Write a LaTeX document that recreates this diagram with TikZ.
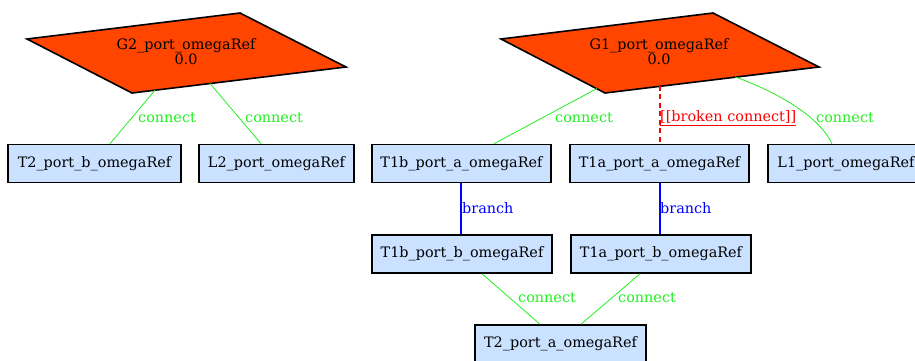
\documentclass[tikz,border=0pt]{standalone}
\usepackage{fontspec}
\setmainfont{DejaVu Serif}
\begin{document}
\begin{tikzpicture}[x=1pt,y=-1pt,
  portbox/.style={draw=black,line width=1.6pt,fill=boxblue,minimum height=38pt,inner sep=0pt,font=\fontsize{14.4}{16}\selectfont},
  gen/.style={draw=black,line width=1.6pt,fill=genorange},
  gentext/.style={align=center,inner sep=0pt,font=\fontsize{14.4}{15}\selectfont},
  conn/.style={draw=linkgreen,line width=0.8pt},
  br/.style={draw=linkblue,line width=1.4pt},
  broken/.style={draw=linkred,line width=1.4pt,dash pattern=on 5pt off 3.5pt},
  elabel/.style={anchor=west,inner sep=0pt,font=\fontsize{14.4}{16}\selectfont}]
\definecolor{boxblue}{HTML}{CAE1FF}
\definecolor{genorange}{HTML}{FF4500}
\definecolor{linkgreen}{HTML}{22EE22}
\definecolor{linkblue}{HTML}{0000FF}
\definecolor{linkred}{HTML}{FF0000}
\useasboundingbox (0,0) rectangle (915,360);
\begin{scope}
\clip (0,0) rectangle (915,360);

% generator parallelograms
\coordinate (g2l) at (27,39);
\coordinate (g2t) at (240,13);
\coordinate (g2r) at (346,67);
\coordinate (g2b) at (132,93);
\path[gen] (g2l) -- (g2t) -- (g2r) -- (g2b) -- cycle;
\node[gentext] (G2) at (186,52) {G2\_port\_omegaRef\\0.0};

\coordinate (g1l) at (501,39);
\coordinate (g1t) at (713,13);
\coordinate (g1r) at (819,67);
\coordinate (g1b) at (605,93);
\path[gen] (g1l) -- (g1t) -- (g1r) -- (g1b) -- cycle;
\node[gentext] (G1) at (659,52) {G1\_port\_omegaRef\\0.0};

% port boxes
\node[portbox,minimum width=173pt] (T2b) at (94.5,163.5) {T2\_port\_b\_omegaRef};
\node[portbox,minimum width=155pt] (L2) at (276.5,163.5) {L2\_port\_omegaRef};
\node[portbox,minimum width=179pt] (T1ba) at (461.5,163.5) {T1b\_port\_a\_omegaRef};
\node[portbox,minimum width=179pt] (T1aa) at (659.5,163.5) {T1a\_port\_a\_omegaRef};
\node[portbox,minimum width=156pt] (L1) at (846,163.5) {L1\_port\_omegaRef};
\node[portbox,minimum width=180pt] (T1bb) at (462,254) {T1b\_port\_b\_omegaRef};
\node[portbox,minimum width=180pt] (T1ab) at (661,254) {T1a\_port\_b\_omegaRef};
\node[portbox,minimum width=171pt] (T2a) at (560.5,344) {T2\_port\_a\_omegaRef};

% edge end points on the generator outlines
\coordinate (g2e1) at (155,90.2);
\coordinate (g2e2) at (210,83.5);
\coordinate (g1e1) at (597,88.5);
\coordinate (g1e2) at (660,85.5);
\coordinate (g1e3) at (735,76.8);

% connections
\draw[conn] (g2e1) -- (T2b.north -| 110,0);
\node[elabel,text=linkgreen] (c1) at (138,118) {connect};
\draw[conn] (g2e2) -- (L2.north -| 261,0);
\node[elabel,text=linkgreen] (c2) at (245,118) {connect};
\draw[conn] (g1e1) -- (T1ba.north -| 494,0);
\node[elabel,text=linkgreen] (c3) at (555,118) {connect};
\draw[broken] (g1e2) -- (T1aa.north -| 660,0);
\node[elabel,text=linkred] (c4) at (660,118) {\underline{[[broken connect]]}};
\draw[conn] (g1e3) .. controls (790,97) and (822,122) .. (L1.north -| 832,0);
\node[elabel,text=linkgreen] (c5) at (816,118) {connect};

\draw[br] (T1ba.south -| 461,0) -- (T1bb.north -| 461,0);
\node[elabel,text=linkblue] (b1) at (462,208) {branch};
\draw[br] (T1aa.south -| 660,0) -- (T1ab.north -| 660,0);
\node[elabel,text=linkblue] (b2) at (660,208) {branch};

\draw[conn] (T1bb.south -| 482,0) -- (T2a.north -| 540,0);
\node[elabel,text=linkgreen] (c6) at (518,298) {connect};
\draw[conn] (T1ab.south -| 640,0) -- (T2a.north -| 581,0);
\node[elabel,text=linkgreen] (c7) at (618,298) {connect};
\end{scope}
\end{tikzpicture}
\end{document}
